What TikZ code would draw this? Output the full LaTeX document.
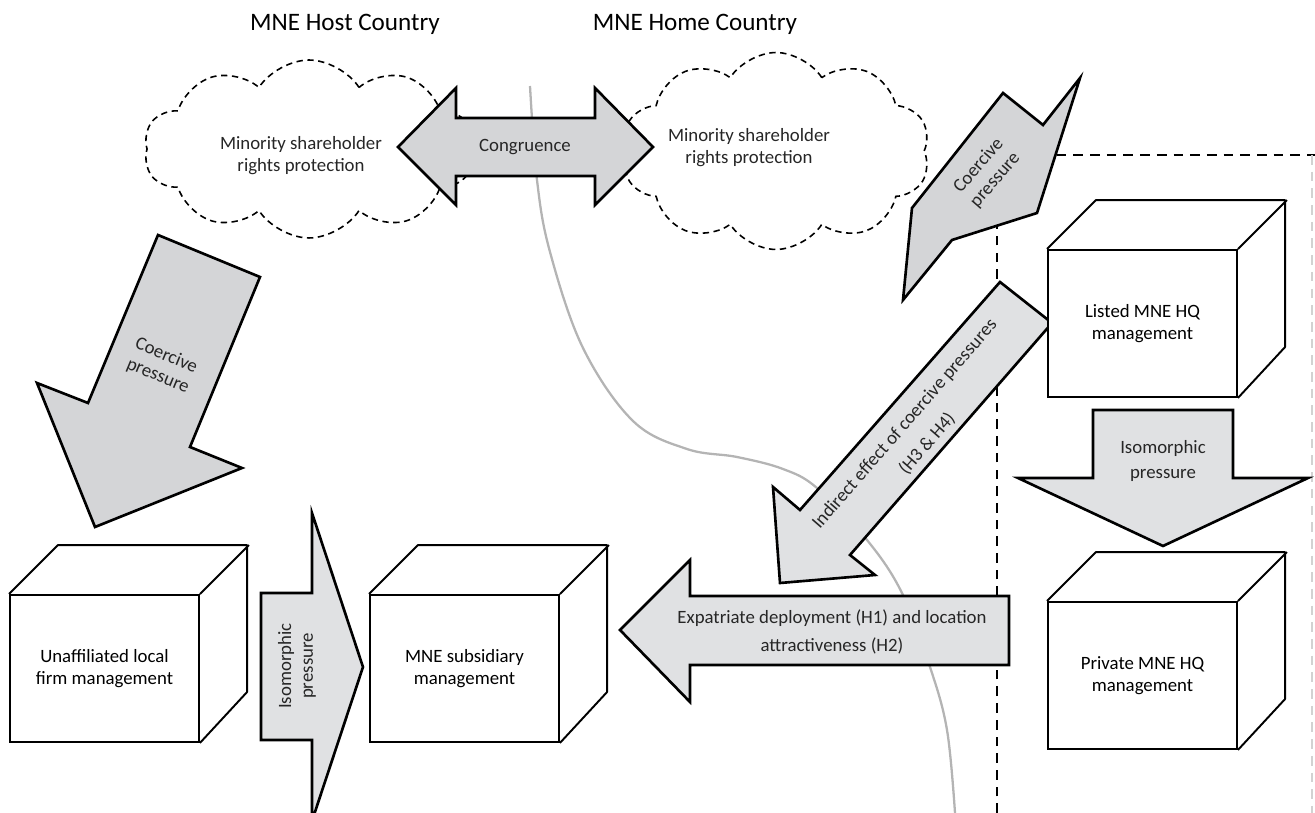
\documentclass[tikz,border=0pt]{standalone}
\usepackage{fontspec}
\setmainfont{Carlito}
\usetikzlibrary{shapes.symbols}
\definecolor{arrowgray}{HTML}{D4D5D7}
\definecolor{palegray}{HTML}{E0E1E3}
\definecolor{curvegray}{HTML}{B4B4B4}
\newcommand{\bodyfont}{\fontsize{10.7}{12.5}\selectfont}
\newcommand{\titlefont}{\fontsize{14.3}{17}\selectfont}

\begin{document}
\begin{tikzpicture}[x=0.02cm, y=-0.02cm,
    boxface/.style={draw, line width=1.1pt, fill=white, minimum width=3.78cm,
        minimum height=2.94cm, inner sep=0pt, align=center, font=\bodyfont},
    boxedge/.style={line width=1.1pt, line join=round},
    blockarrow/.style={draw, line width=1.5pt, fill=arrowgray, line join=miter},
    arrowtext/.style={font=\bodyfont, align=center, text=black!85, inner sep=1pt},
    puffs/.style={cloud, cloud puffs=10, cloud puff arc=115, draw,
        line width=0.9pt, dash pattern=on 3.6pt off 2.6pt},
    framedash/.style={line width=0.9pt, dash pattern=on 5.5pt off 4pt}]
    \useasboundingbox (0,0) rectangle (1315,813);

    % Country titles
    \node[font=\titlefont] (hosttitle) at (345,24) {MNE Host Country};
    \node[font=\titlefont] (hometitle) at (695,24) {MNE Home Country};

    % Border line between the countries
    \draw[curvegray, line width=1.3pt] plot[smooth, tension=0.6] coordinates
        {(530,86) (537,180) (550,252) (583,348) (633,421) (687,449) (737,457)
         (783,469) (817,488) (867,540) (902,593) (930,667) (947,730) (955,813)};

    % Institutional clouds
    \node[puffs, minimum width=6.6cm, minimum height=3.56cm] (hostcloud) at (309,149) {};
    \node[arrowtext] (hostrights) at (301,156) {Minority shareholder\\rights protection};
    \node[puffs, minimum width=6.16cm, minimum height=3.94cm] (homecloud) at (776,151) {};
    \node[arrowtext] (homerights) at (749,148) {Minority shareholder\\rights protection};

    % HQ frame
    \draw[framedash] (997,813) -- (997,155) -- (1315,155);
    \draw[framedash, gray!35] (1312,155) -- (1312,813);

    % Congruence
    \draw[blockarrow] (398,147) -- (456,88) -- (456,118) -- (595,118) -- (595,88)
        -- (653,147) -- (595,205) -- (595,176) -- (456,176) -- (456,205) -- cycle;
    \node[arrowtext] (congr) at (525,147) {Congruence};

    % Coercive pressure, host side
    \draw[blockarrow] (158,235) -- (260,277) -- (190,447) -- (242,468) -- (95,527)
        -- (37,383) -- (88,403) -- cycle;
    \node[arrowtext, rotate=-22.5] (hostcoer) at (162,366) {Coercive\\pressure};

    % Coercive pressure, home side
    \draw[blockarrow] (1003,93) -- (1043,125) -- (1080,78) -- (1037,213) -- (952,240)
        -- (903,300) -- (912,208) -- cycle;
    \node[arrowtext, rotate=49] (homecoer) at (987,173) {Coercive\\pressure};

    % Indirect effect
    \draw[blockarrow, fill=palegray] (1000,282) -- (1052,323) -- (850,555) -- (875,575)
        -- (780,583) -- (773,487) -- (800,510) -- cycle;
    \node[arrowtext, rotate=49, font=\fontsize{10.7}{17}\selectfont] (indirect)
        at (916,434) {Indirect effect of coercive pressures\\(H3 \& H4)};

    % Expatriates and location
    \draw[blockarrow, fill=palegray] (620,630) -- (690,560) -- (690,596) -- (1009,596)
        -- (1009,665) -- (690,665) -- (690,702) -- cycle;
    \node[arrowtext, font=\fontsize{10.7}{16.4}\selectfont] (expat) at (832,632)
        {Expatriate deployment (H1) and location\\attractiveness (H2)};

    % Isomorphic pressures
    \draw[blockarrow, fill=palegray] (261,593) -- (312,593) -- (312,513) -- (363,667)
        -- (312,821) -- (312,740) -- (261,740) -- cycle;
    \node[arrowtext, rotate=90] (hostiso) at (297,666) {Isomorphic\\pressure};
    \draw[blockarrow, fill=palegray] (1093,410) -- (1233,410) -- (1233,478) -- (1308,478)
        -- (1163,546) -- (1018,478) -- (1093,478) -- cycle;
    \node[arrowtext, font=\fontsize{10.7}{14.7}\selectfont] (homeiso) at (1163,461)
        {Isomorphic\\pressure};

    % Management cubes
    \node[boxface] (local) at (104.5,668.5) {Unaffiliated local\\firm management};
    \node[boxface] (sub) at (464.5,668.5) {MNE subsidiary\\management};
    \node[boxface] (listed) at (1142.5,323.5) {Listed MNE HQ\\management};
    \node[boxface] (private) at (1142.5,675.5) {Private MNE HQ\\management};
    \foreach \c in {local, sub, listed, private}
        \draw[boxedge] (\c.north west) -- ++(49,-49) -- ++(189,0) -- ++(0,147)
            -- (\c.south east) (\c.north east) -- ++(49,-49);
\end{tikzpicture}
\end{document}
